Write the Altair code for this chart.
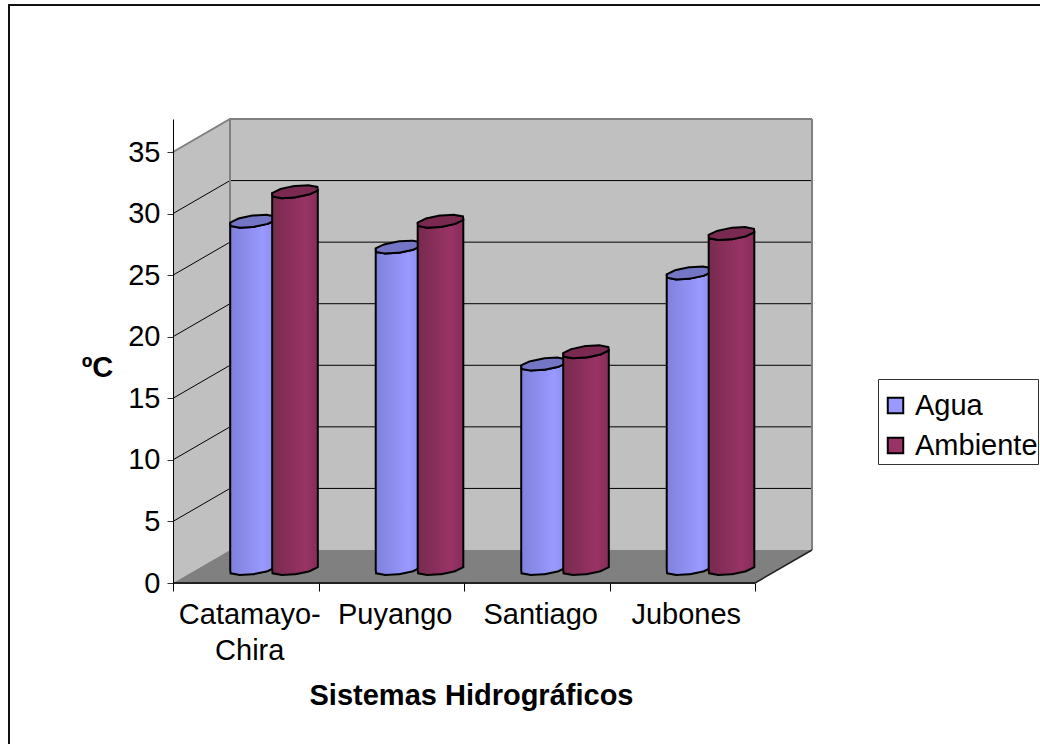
import altair as alt
import numpy as np
import pandas as pd

# Temperatures per hydrographic system (degrees C)
systems = ["Catamayo-\nChira", "Puyango", "Santiago", "Jubones"]
agua = [28.2, 26.1, 16.6, 24.0]
ambiente = [30.6, 28.2, 17.6, 27.2]
y_ticks = [0, 5, 10, 15, 20, 25, 30, 35]
x_ticks = [0, 1, 2, 3, 4]
series_names = ["Agua", "Ambiente"]
series_colors = ["#9999FF", "#993366"]
cap_colors = ["#7575C6", "#7A2950"]

FONT = "Liberation Sans"
PX_X = 145.5    # pixels per category
PX_Y = 12.314   # pixels per degree
DEPTH_X = 57 / PX_X
DEPTH_Y = 33 / PX_Y
Y_MAX = 35 + DEPTH_Y
X_MAX = 4 + DEPTH_X
BASE_Y = 14.5 / PX_Y         # height of a cylinder's base centre in the oblique view
SERIES_X = [0.55, 0.8385]    # cylinder centre within a category
FACETS = 10


def disc_chains():
    """Upper and lower edge of an oblique, faceted disc, as offsets in data units."""
    t = np.linspace(0, 2 * np.pi, FACETS + 1)[:-1] + 0.2
    dx = (21 * np.cos(t) + 11.2 * np.sin(t)) / PX_X
    dy = (6.5 * np.sin(t)) / PX_Y
    left, right = int(np.argmin(dx)), int(np.argmax(dx))
    upper_i, lower_i = [], []
    i = right
    while True:
        upper_i.append(i)
        if i == left:
            break
        i = (i + 1) % FACETS
    i = left
    while True:
        lower_i.append(i)
        if i == right:
            break
        i = (i + 1) % FACETS
    upper_i = upper_i[::-1]
    xs = np.unique(np.concatenate([dx[upper_i], dx[lower_i]]))
    return xs, np.interp(xs, dx[upper_i], dy[upper_i]), np.interp(xs, dx[lower_i], dy[lower_i])


DISC_X, DISC_UP, DISC_LOW = disc_chains()


def cylinder_tables(values, shift):
    body, cap = [], []
    for i, v in enumerate(values):
        cx = i + shift
        top = v + BASE_Y
        for ox, up, low in zip(DISC_X, DISC_UP, DISC_LOW):
            body.append({"c": i, "x": cx + ox, "y": top + low, "y2": BASE_Y + low})
            cap.append({"c": i, "x": cx + ox, "y": top + up, "y2": top + low})
    return pd.DataFrame(body), pd.DataFrame(cap)


x_scale = alt.Scale(domain=[0, X_MAX], nice=False, zero=False)
y_scale = alt.Scale(domain=[0, Y_MAX], nice=False, zero=False)
X = alt.X(
    "x:Q",
    scale=x_scale,
    axis=alt.Axis(
        values=x_ticks, labels=False, domain=False, grid=False, tickColor="#000000",
        tickSize=8, tickWidth=1, zindex=1, title="Sistemas Hidrográficos", titleFont=FONT,
        titleFontSize=29, titleFontWeight="bold", titleColor="#000000",
        titleX=298, titleY=112, titleBaseline="middle", titleAlign="center",
    ),
)
Y = alt.Y(
    "y:Q",
    scale=y_scale,
    axis=alt.Axis(
        values=y_ticks, domainColor="#000000", domainWidth=1, tickColor="#333333",
        tickSize=6, tickWidth=1, grid=False, zindex=1, labelFont=FONT, labelFontSize=29,
        labelColor="#000000", labelPadding=7, title="ºC", titleFont=FONT,
        titleFontSize=29, titleFontWeight="bold", titleColor="#000000", titleAngle=0,
        titleX=-76, titleY=248, titleBaseline="middle", titleAlign="center",
    ),
)
Y2 = alt.Y2("y2:Q")

# Side wall and back wall
side = pd.DataFrame({"x": [0, DEPTH_X], "y": [35, Y_MAX], "y2": [0, DEPTH_Y]})
back = pd.DataFrame({"x": [DEPTH_X, X_MAX], "y": [Y_MAX, Y_MAX], "y2": [DEPTH_Y, DEPTH_Y]})
walls = alt.layer(
    alt.Chart(side).mark_area(color="#C0C0C0", stroke=None).encode(x=X, y=Y, y2=Y2),
    alt.Chart(back).mark_area(color="#C0C0C0", stroke=None).encode(x=X, y=Y, y2=Y2),
)

# Gridlines run along the side wall and across the back wall
grid_rows = []
for v in y_ticks:
    for x, y in [(0, v), (DEPTH_X, v + DEPTH_Y), (X_MAX, v + DEPTH_Y)]:
        grid_rows.append({"v": v, "x": x, "y": y})
grid_df = pd.DataFrame(grid_rows)
grid = alt.Chart(grid_df[(grid_df.v > 0) & (grid_df.v < 35)]).mark_line(
    color="#000000", strokeWidth=1
).encode(x=X, y=Y, detail="v:N")

edge_top = alt.Chart(grid_df[grid_df.v == 35]).mark_line(color="#808080", strokeWidth=2).encode(
    x=X, y=Y, detail="v:N"
)
edge_rows = pd.DataFrame(
    {"k": [0, 0, 1, 1], "x": [DEPTH_X, DEPTH_X, X_MAX, X_MAX], "y": [DEPTH_Y, Y_MAX, DEPTH_Y, Y_MAX]}
)
edges = alt.Chart(edge_rows).mark_line(color="#808080", strokeWidth=2).encode(x=X, y=Y, detail="k:N")

# Floor
floor_df = pd.DataFrame(
    {"x": [0, DEPTH_X, 4, X_MAX], "y": [0, DEPTH_Y, DEPTH_Y, DEPTH_Y], "y2": [0, 0, 0, DEPTH_Y]}
)
floor = alt.Chart(floor_df).mark_area(color="#808080", stroke=None).encode(x=X, y=Y, y2=Y2)
front_edge = pd.DataFrame({"x": [0, 4], "y": [0, 0]})
front = alt.Chart(front_edge).mark_line(color="#222222", strokeWidth=2).encode(x=X, y=Y)
right_edge = pd.DataFrame({"x": [4, X_MAX], "y": [0, DEPTH_Y]})
right = alt.Chart(right_edge).mark_line(color="#222222", strokeWidth=1.5).encode(x=X, y=Y)

# Category labels
label_df = pd.DataFrame({"x": [i + 0.5 for i in range(4)], "label": systems})
labels = alt.Chart(label_df).mark_text(
    font=FONT, fontSize=29, color="#000000", baseline="top", lineBreak="\n", lineHeight=36, dx=4
).encode(x=X, y=alt.value(482), text="label:N")


def gradient(left, mid, right):
    return alt.Gradient(
        gradient="linear", x1=0, x2=1, y1=0, y2=0,
        stops=[
            alt.GradientStop(color=left, offset=0),
            alt.GradientStop(color=mid, offset=0.72),
            alt.GradientStop(color=right, offset=1),
        ],
    )


fills = [gradient("#8080DC", "#9999FF", "#8C8CEA"), gradient("#772A4E", "#993366", "#862D58")]
cylinders = []
for values, shift, fill, cap_color in zip([agua, ambiente], SERIES_X, fills, cap_colors):
    body_df, cap_df = cylinder_tables(values, shift)
    cylinders.append(
        alt.Chart(body_df).mark_area(color=fill, stroke="#000000", strokeWidth=2).encode(
            x=X, y=Y, y2=Y2, detail="c:N"
        )
    )
    cylinders.append(
        alt.Chart(cap_df).mark_area(color=cap_color, stroke="#000000", strokeWidth=2).encode(
            x=X, y=Y, y2=Y2, detail="c:N"
        )
    )

# Legend carried by an invisible layer, with its box drawn separately
legend_df = pd.DataFrame({"s": series_names, "x": [1, 1], "y": [1, 1]})
legend = alt.Chart(legend_df).mark_square(size=0).encode(
    x=X,
    y=Y,
    color=alt.Color(
        "s:N",
        scale=alt.Scale(domain=series_names, range=series_colors),
        legend=alt.Legend(
            orient="none", legendX=705, legendY=269, title=None,
            padding=3, labelFont=FONT, labelFontSize=29, labelColor="#000000",
            symbolType="square", symbolSize=240, symbolStrokeColor="#000000",
            symbolStrokeWidth=2, rowPadding=10, labelOffset=5, symbolOffset=0, symbolOpacity=1,
        ),
    ),
)
legend_box = alt.Chart(pd.DataFrame({"f": [0]})).mark_rect(
    filled=False, stroke="#333333", strokeWidth=1
).encode(x=alt.value(705.5), x2=alt.value(865.5), y=alt.value(260.5), y2=alt.value(345.5))

# Outer frame of the chart; its right and bottom sides lie beyond the page
frame = alt.Chart(pd.DataFrame({"f": [0]})).mark_rect(
    filled=False, stroke="#111111", strokeWidth=2
).encode(x=alt.value(-164), x2=alt.value(890), y=alt.value(-114), y2=alt.value(640))

chart = alt.layer(
    frame, walls, grid, edge_top, edges, floor, front, right,
    *cylinders, labels, legend_box, legend,
).properties(
    width=639,
    height=464,
    padding={"left": 173, "top": 119, "right": 228, "bottom": 161},
    autosize=alt.AutoSizeParams(type="none", contains="content"),
).configure_view(stroke=None)

chart.save("out.html", embed_options={"renderer": "svg", "actions": False})
